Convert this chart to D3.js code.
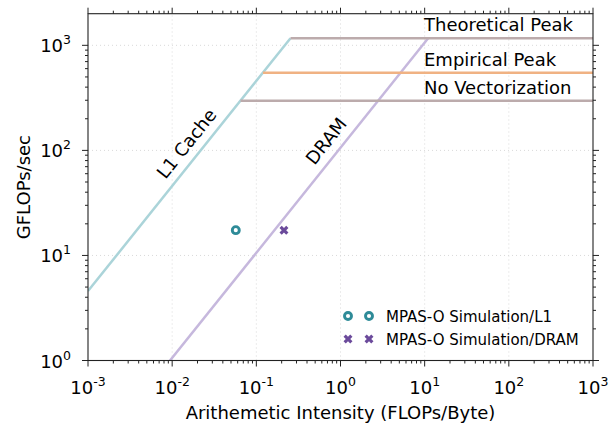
<!DOCTYPE html>
<html>
<head>
<meta charset="utf-8">
<script src="https://cdn.jsdelivr.net/npm/d3@7"></script>
<style>
  body { margin: 0; background: #fff; }
  svg text { font-family: "DejaVu Sans", sans-serif; fill: #000; }
</style>
</head>
<body>
<svg id="chart" width="613" height="427"></svg>
<script>
// roofline data
const ceilingNames = ["Theoretical Peak", "Empirical Peak", "No Vectorization"];
const ceilingGflops = [1166, 548, 297];
const ceilingColors = ["#bcabac", "#f0b283", "#bcabac"];

const bandwidthNames = ["L1 Cache", "DRAM"];
const bandwidthGBs = [4580, 106];
const bandwidthColors = ["#abd4d9", "#c6b8dd"];
const bandwidthLabelAI = [0.0205, 0.937];

const pointNames = ["MPAS-O Simulation/L1", "MPAS-O Simulation/DRAM"];
const pointIntensity = [0.057, 0.213];
const pointGflops = [17.4, 17.4];

const xMajor = [-3, -2, -1, 0, 1, 2, 3];
const yMajor = [0, 1, 2, 3];

const width = 613, height = 427;
const marginLeft = 88, marginRight = 20, marginTop = 13.7, marginBottom = 66.5;

const svg = d3.select("#chart");

const x = d3.scaleLog().domain([1e-3, 1e3]).range([marginLeft, width - marginRight]);
const y = d3.scaleLog().domain([1, 2000]).range([height - marginBottom, marginTop]);

svg.append("defs").append("clipPath").attr("id", "plot-clip")
  .append("rect")
    .attr("x", marginLeft).attr("y", marginTop)
    .attr("width", x.range()[1] - marginLeft)
    .attr("height", y.range()[0] - marginTop);

// grid
const grid = svg.append("g");
grid.selectAll(".gx")
  .data(xMajor.slice(1, -1))
  .join("line")
    .attr("x1", d => x(10 ** d)).attr("x2", d => x(10 ** d))
    .attr("y1", y.range()[0]).attr("y2", marginTop)
    .attr("stroke", "#d9d9d9").attr("stroke-dasharray", "1,3");
grid.selectAll(".gy")
  .data(yMajor.slice(1))
  .join("line")
    .attr("y1", d => y(10 ** d)).attr("y2", d => y(10 ** d))
    .attr("x1", marginLeft).attr("x2", x.range()[1])
    .attr("stroke", "#d9d9d9").attr("stroke-dasharray", "1,3");

const plot = svg.append("g").attr("clip-path", "url(#plot-clip)");

// bandwidth slopes, up to the theoretical peak
const peak = ceilingGflops[0];
bandwidthGBs.forEach((bw, i) => {
  const x0 = 1e-3;
  const x1 = peak / bw;
  plot.append("line")
    .attr("x1", x(x0)).attr("y1", y(x0 * bw))
    .attr("x2", x(x1)).attr("y2", y(peak))
    .attr("stroke", bandwidthColors[i]).attr("stroke-width", 2.5);
});

// compute ceilings, starting on the L1 slope
ceilingGflops.forEach((g, i) => {
  plot.append("line")
    .attr("x1", x(g / bandwidthGBs[0])).attr("x2", x(1e3))
    .attr("y1", y(g)).attr("y2", y(g))
    .attr("stroke", ceilingColors[i]).attr("stroke-width", 2.5);
  svg.append("text")
    .attr("x", 424).attr("y", y(g) - 7)
    .attr("font-size", 18)
    .text(ceilingNames[i]);
});

// slope labels
const angle = -Math.atan((y(1) - y(10)) / (x(10) - x(1))) * 180 / Math.PI;
bandwidthNames.forEach((name, i) => {
  const ai = bandwidthLabelAI[i];
  const px = x(ai), py = y(ai * bandwidthGBs[i]);
  svg.append("text")
    .attr("transform", `translate(${px},${py}) rotate(${angle})`)
    .attr("text-anchor", "middle")
    .attr("dy", -9)
    .attr("font-size", 18)
    .text(name);
});

// markers
const circleColor = "#2e8b98", crossColor = "#6b4a9b";
const cross = d3.symbol().type(d3.symbolCross).size(50);
function drawMarker(g, kind, cx, cy) {
  if (kind === 0) {
    g.append("circle").attr("cx", cx).attr("cy", cy).attr("r", 3.5)
      .attr("fill", "#fff").attr("stroke", circleColor).attr("stroke-width", 2.9);
  } else {
    g.append("path").attr("d", cross())
      .attr("transform", `translate(${cx},${cy}) rotate(45)`)
      .attr("fill", crossColor);
  }
}
pointIntensity.forEach((ai, i) => drawMarker(plot, i, x(ai), y(pointGflops[i])));

// legend
const legend = svg.append("g");
pointNames.forEach((name, i) => {
  const ly = 316 + i * 23;
  drawMarker(legend, i, 348, ly);
  drawMarker(legend, i, 369, ly);
  legend.append("text").attr("x", 386).attr("y", ly + 5.5)
    .attr("font-size", 15).text(name);
});

// axes with minor ticks
function logTicks(lo, hi) {
  const out = [];
  for (let e = lo; e <= hi; e++) {
    for (let m = 1; m < 10; m++) {
      const v = m * 10 ** e;
      out.push({ v, major: m === 1 });
    }
  }
  return out;
}
const xTicks = logTicks(-3, 3).filter(t => t.v <= 1e3);
const yTicks = logTicks(0, 3).filter(t => t.v < 2000);
const x0 = marginLeft, x1 = x.range()[1], y0 = y.range()[0], y1 = marginTop;

const axes = svg.append("g").attr("stroke", "#222");
axes.append("rect").attr("x", x0).attr("y", y1)
  .attr("width", x1 - x0).attr("height", y0 - y1)
  .attr("fill", "none").attr("stroke-width", 1.1);
xTicks.forEach(t => {
  const len = t.major ? 6 : 3;
  axes.append("line").attr("x1", x(t.v)).attr("x2", x(t.v)).attr("y1", y0).attr("y2", y0 + len);
  axes.append("line").attr("x1", x(t.v)).attr("x2", x(t.v)).attr("y1", y1).attr("y2", y1 - len);
});
yTicks.forEach(t => {
  const len = t.major ? 6 : 3;
  axes.append("line").attr("y1", y(t.v)).attr("y2", y(t.v)).attr("x1", x0).attr("x2", x0 - len);
  axes.append("line").attr("y1", y(t.v)).attr("y2", y(t.v)).attr("x1", x1).attr("x2", x1 + len);
});

function powLabel(sel, e) {
  sel.append("tspan").text("10");
  sel.append("tspan").attr("dy", -8).attr("font-size", 12.5).text(e);
}
xMajor.forEach(e => {
  const t = svg.append("text").attr("x", x(10 ** e)).attr("y", y0 + 33)
    .attr("text-anchor", "middle").attr("font-size", 18);
  powLabel(t, e);
});
yMajor.forEach(e => {
  const t = svg.append("text").attr("x", x0 - 17).attr("y", y(10 ** e) + 7)
    .attr("text-anchor", "end").attr("font-size", 18);
  powLabel(t, e);
});

svg.append("text")
  .attr("x", (x0 + x1) / 2).attr("y", 419)
  .attr("text-anchor", "middle").attr("font-size", 18)
  .text("Arithemetic Intensity (FLOPs/Byte)");
svg.append("text")
  .attr("transform", `translate(30,${(y0 + y1) / 2}) rotate(-90)`)
  .attr("text-anchor", "middle").attr("font-size", 18)
  .text("GFLOPs/sec");
</script>
</body>
</html>
